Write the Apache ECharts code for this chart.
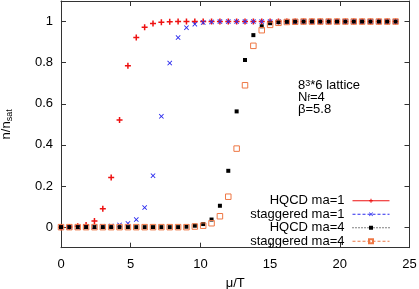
<!DOCTYPE html>
<html><head><meta charset="utf-8">
<script src="https://cdn.jsdelivr.net/npm/echarts@6/dist/echarts.min.js"></script>
<style>html,body{margin:0;padding:0;background:#fff}#c{width:419px;height:289px}</style>
</head><body><div id="c"></div>
<script>
const muT = [0,0.6,1.2,1.8,2.4,3.0,3.6,4.2,4.8,5.4,6.0,6.6,7.2,7.8,8.4,9.0,9.6,10.2,10.8,11.4,12.0,12.6,13.2,13.8,14.4,15.0,15.6,16.2,16.8,17.4,18.0,18.6,19.2,19.8,20.4,21.0,21.6,22.2,22.8,23.4,24.0];
const hqcdMa1 = [0,0.001,0.004,0.011,0.03,0.089,0.242,0.521,0.785,0.922,0.972,0.99,0.997,0.999,1,1,1,1,1,1,1,1,1,1,1,1,1,1,1,1,1,1,1,1,1,1,1,1,1,1,1];
const staggMa1 = [0,0,0,0.001,0.002,0.004,0.006,0.011,0.018,0.037,0.095,0.25,0.539,0.798,0.922,0.97,0.987,0.995,0.998,1,1,1,1,1,1,1,1,1,1,1,1,1,1,1,1,1,1,1,1,1,1];
const hqcdMa4 = [0,0,0,0,0,0,0,0,0,0,0,0,0,0,0,0.002,0.007,0.015,0.037,0.104,0.274,0.563,0.813,0.934,0.977,0.992,0.997,0.999,1,1,1,1,1,1,1,1,1,1,1,1,1];
const staggMa4 = [0,0,0,0,0,0,0,0,0,0,0,0,0,0,0,0,0.003,0.007,0.019,0.053,0.148,0.382,0.69,0.882,0.958,0.984,0.994,0.998,0.999,1,1,1,1,1,1,1,1,1,1,1,1];
const seriesNames = ['HQCD ma=1','staggered ma=1','HQCD ma=4','staggered ma=4'];
const xTicks = [0,5,10,15,20,25];
const yTicks = [0,0.2,0.4,0.6,0.8,1];

const FONT = 'Liberation Sans';
const pair = arr => muT.map((x,i)=>[x,arr[i]]);
const PLUS = 'path://M3,0H5V3H8V5H5V8H3V5H0V3H3Z';
const CROSS = 'path://M1,0L4,3L7,0L8,1L5,4L8,7L7,8L4,5L1,8L0,7L3,4L0,1Z';
const axisCol = '#333';

function mkSeries(name, arr, color, symbol, size, ltype, itemStyle){
  return {
    name, type:'line', data: pair(arr), showSymbol:true, showAllSymbol:true,
    symbol, symbolSize:size, animation:false,
    lineStyle:{color, width:1, type:ltype, opacity:0},
    itemStyle: Object.assign({color}, itemStyle||{}),
    emphasis:{disabled:true}, z: 2
  };
}

const chart = echarts.init(document.getElementById('c'), null, {renderer:'canvas'});
chart.setOption({
  animation:false,
  backgroundColor:'#fff',
  textStyle:{fontFamily:FONT},
  grid:{left:61, right:9.5, top:1, bottom:41.3, containLabel:false, outerBoundsMode:'none'},
  xAxis:[{
    type:'value', min:xTicks[0], max:xTicks[xTicks.length-1], interval:5,
    name:'μ/T', nameLocation:'middle', nameGap:29,
    nameTextStyle:{fontSize:13, color:'#000', fontFamily:FONT},
    axisLine:{show:true, onZero:false, lineStyle:{color:axisCol, width:1}},
    axisTick:{show:true, inside:true, length:5, lineStyle:{color:axisCol}},
    axisLabel:{show:true, color:'#000', fontSize:13, margin:10, fontFamily:FONT},
    splitLine:{show:false}
  },{
    type:'value', position:'top', min:xTicks[0], max:xTicks[xTicks.length-1], interval:5,
    axisLine:{show:true, onZero:false, lineStyle:{color:axisCol, width:1}},
    axisTick:{show:true, inside:true, length:5, lineStyle:{color:axisCol}},
    axisLabel:{show:false}, splitLine:{show:false}
  }],
  yAxis:[{
    type:'value', min:-0.1, max:1.1, interval:0.1,
    name:'{a|n/n}{s|sat}', nameLocation:'middle', nameGap:47, nameRotate:90,
    nameTextStyle:{rich:{a:{fontSize:13, color:'#000', fontFamily:FONT}, s:{fontSize:9, color:'#000', fontFamily:FONT, verticalAlign:'bottom', padding:[6,0,0,0]}}},
    axisLine:{show:true, onZero:false, lineStyle:{color:axisCol, width:1}},
    axisTick:{show:true, inside:true, length:5, lineStyle:{color:axisCol}, customValues:yTicks},
    axisLabel:{show:true, color:'#000', fontSize:13, margin:8, fontFamily:FONT, customValues:yTicks,
      formatter: v => String(+v.toFixed(1))},
    splitLine:{show:false}
  },{
    type:'value', position:'right', min:-0.1, max:1.1, interval:0.1,
    axisLine:{show:true, onZero:false, lineStyle:{color:axisCol, width:1}},
    axisTick:{show:true, inside:true, length:5, lineStyle:{color:axisCol}, customValues:yTicks},
    axisLabel:{show:false}, splitLine:{show:false}
  }],
  legend:{
    orient:'vertical', right:24, top:189, align:'right',
    itemWidth:37, itemHeight:5, itemGap:0,
    textStyle:{fontSize:13, color:'#000', fontFamily:FONT, lineHeight:13.5, padding:[0,3,0,0]},
    lineStyle:{opacity:1, width:1},
    selectedMode:false,
    data: seriesNames.map(n=>({name:n}))
  },
  graphic:[{
    type:'text', left:298, top:79,
    style:{
      text:'{a|8}{p|3}{a|*6 lattice}\n{a|N}{b|f}{a|=4}\n{a|β=5.8}',
      rich:{
        a:{fontSize:13, fontFamily:FONT, fill:'#000', lineHeight:12},
        p:{fontSize:9, fontFamily:FONT, fill:'#000', verticalAlign:'top', lineHeight:12, padding:[0,0,6,0]},
        b:{fontSize:9, fontFamily:FONT, fill:'#000', verticalAlign:'bottom', lineHeight:12, padding:[5,0,0,0]}
      }
    }
  }],
  series:[
    mkSeries(seriesNames[0], hqcdMa1, '#ee1111', PLUS, 6, 'solid'),
    mkSeries(seriesNames[1], staggMa1, '#2a2aee', CROSS, 5, [3,2]),
    mkSeries(seriesNames[2], hqcdMa4, '#000000', 'rect', 4, [1,2]),
    mkSeries(seriesNames[3], staggMa4, '#ee7744', 'rect', 5.5, [3,2], {color:'rgba(0,0,0,0)', borderColor:'#ee7744', borderWidth:1})
  ]
});
</script></body></html>
